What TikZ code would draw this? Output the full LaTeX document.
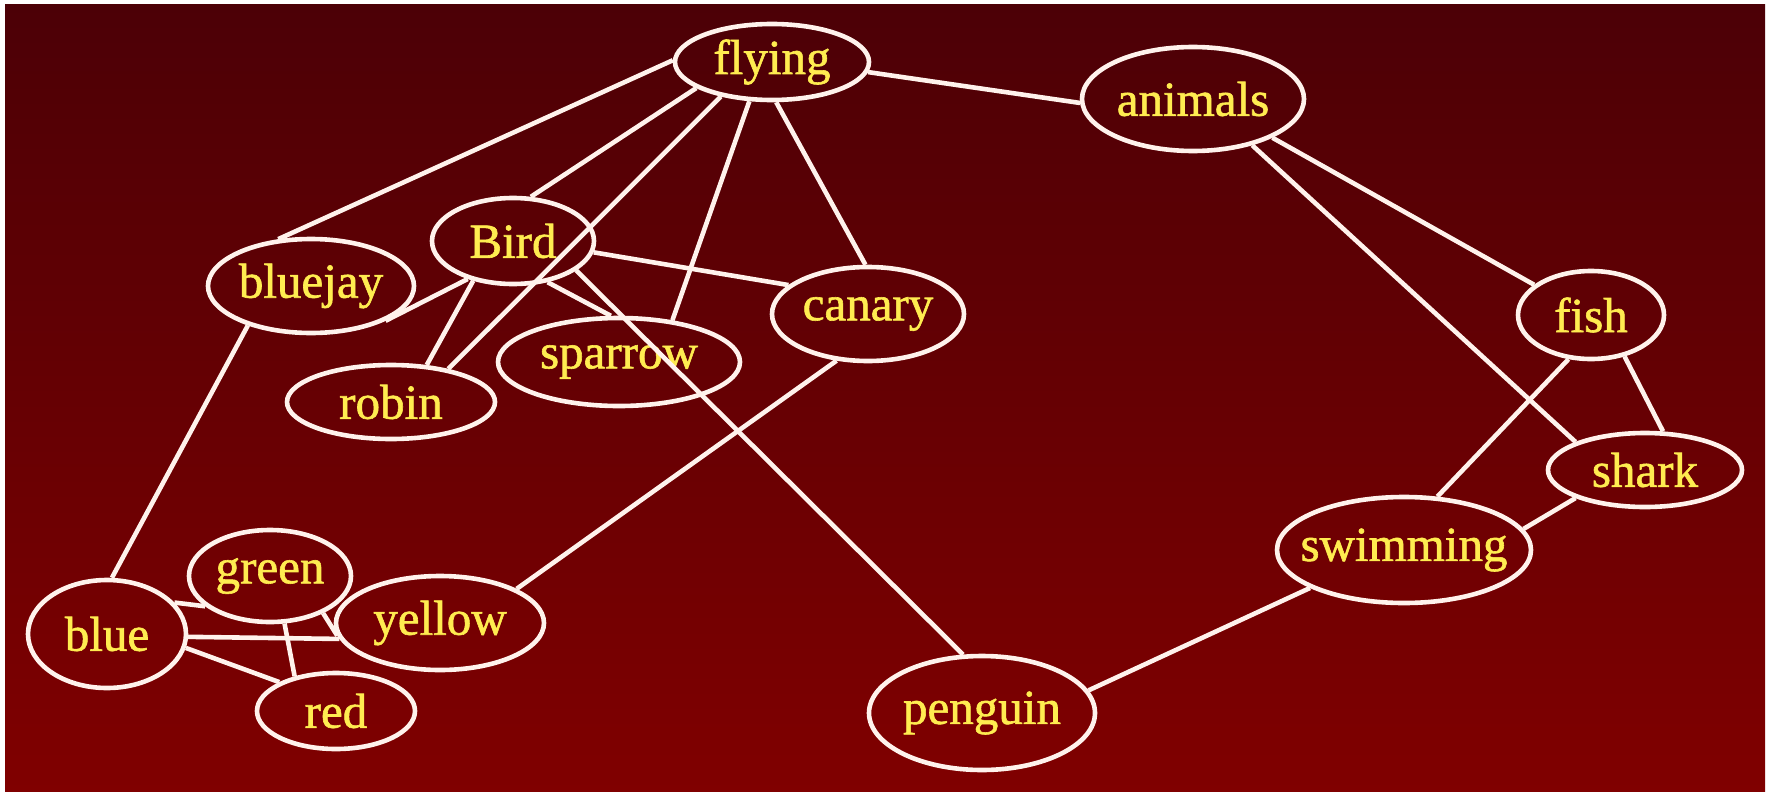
\documentclass[tikz,border=0pt]{standalone}
\usepackage{fontspec}
\setmainfont{Liberation Serif}
\newfontfamily\nodefont{Liberation Serif}[FakeBold=1.2]
\usetikzlibrary{shapes.geometric}
\definecolor{bgtop}{RGB}{76,0,6}
\definecolor{bgbot}{RGB}{128,0,0}
\definecolor{linec}{RGB}{255,242,236}
\definecolor{txt}{RGB}{255,236,80}
\tikzset{
  nd/.style={ellipse, draw=linec, line width=4.6pt, inner sep=0pt, text=txt,
    font=\nodefont\fontsize{49}{60}\selectfont},
  edge/.style={draw=linec, line width=4.6pt}
}
\newcommand{\lbl}[1]{\makebox[0pt]{#1}}
\begin{document}
\begin{tikzpicture}[x=1pt,y=-1pt]
\useasboundingbox (0,0) rectangle (1769,792);
\fill[white] (0,0) rectangle (1769,792);
\shade[top color=bgtop, bottom color=bgbot] (5,5) rectangle (1765,792);

\node[nd, minimum width=194, minimum height=76] (flying) at (772,62) {\lbl{flying}};
\node[nd, minimum width=222, minimum height=104] (animals) at (1193,99) {\lbl{animals}};
\node[nd, minimum width=162, minimum height=86] (Bird) at (513,241) {\lbl{Bird}};
\node[nd, minimum width=206, minimum height=94] (bluejay) at (311,286) {\lbl{bluejay}};
\node[nd, minimum width=192, minimum height=94] (canary) at (868,314) {\lbl{canary}};
\node[nd, minimum width=242, minimum height=88] (sparrow) at (619,362) {\lbl{sparrow}};
\node[nd, minimum width=208, minimum height=74] (robin) at (391,402) {\lbl{robin}};
\node[nd, minimum width=146, minimum height=88] (fish) at (1591,315) {\lbl{fish}};
\node[nd, minimum width=194, minimum height=74] (shark) at (1645,470) {\lbl{shark}};
\node[nd, minimum width=254, minimum height=106] (swimming) at (1404,550) {\lbl{swimming}};
\node[nd, minimum width=162, minimum height=92] (green) at (270,576) {\lbl{green}};
\node[nd, minimum width=208, minimum height=94] (yellow) at (440,623) {\lbl{yellow}};
\node[nd, minimum width=158, minimum height=108] (blue) at (107,634) {\lbl{blue}};
\node[nd, minimum width=158, minimum height=76] (red) at (336,711) {\lbl{red}};
\node[nd, minimum width=226, minimum height=114] (penguin) at (982,713) {\lbl{penguin}};

\draw[edge] (flying.179) -- (bluejay.125);
\draw[edge] (flying.199) -- (Bird.68);
\draw[edge] (flying.214) -- (robin.30);
\draw[edge] (flying.240) -- (sparrow.38);
\draw[edge] (flying.276) -- (canary.93);
\draw[edge] (flying.354) -- (animals.182);
\draw[edge] (Bird.220) -- (bluejay.335);
\draw[edge] (Bird.225) -- (robin.46);
\draw[edge] (Bird.352) -- (canary.160);
\draw[edge] (Bird.310) -- (sparrow.100);
\draw[edge] (Bird.335) -- (penguin.108);
\draw[edge] (bluejay.212) -- (blue.85);
\draw[edge] (canary.236) -- (yellow.24);
\draw[edge] (blue.25) -- (green.205);
\draw[edge] (blue.358) -- (yellow.189);
\draw[edge] (blue.350) -- (red.153);
\draw[edge] (green.287) -- (red.140);
\draw[edge] (green.325) -- (yellow.187);
\draw[edge] (animals.334) -- (fish.152);
\draw[edge] (animals.322) -- (shark.158);
\draw[edge] (fish.243) -- (swimming.58);
\draw[edge] (fish.309) -- (shark.65);
\draw[edge] (shark.202) -- (swimming.10);
\draw[edge] (swimming.202) -- (penguin.12);
\end{tikzpicture}
\end{document}
